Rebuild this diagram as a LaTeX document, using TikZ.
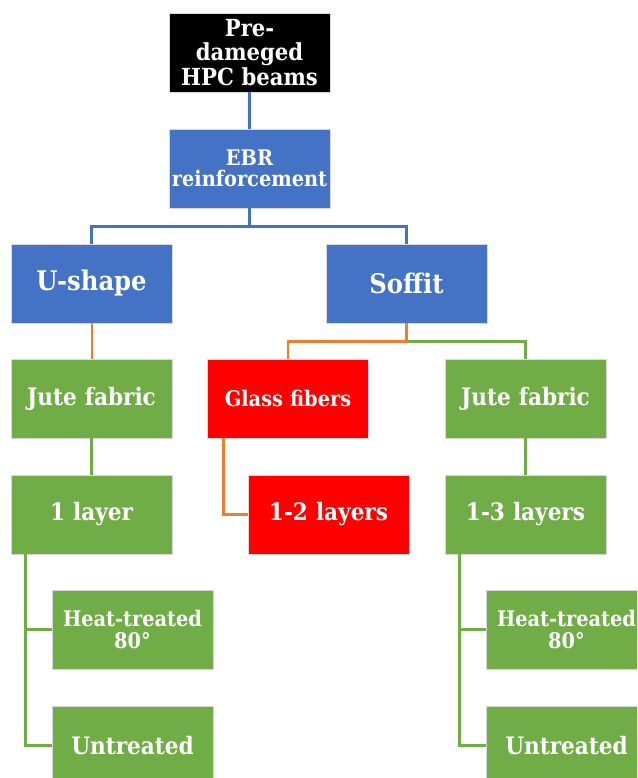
\documentclass[tikz,border=0pt]{standalone}
\usepackage{fontspec}
\setmainfont{DejaVu Serif Condensed}
\usetikzlibrary{positioning,calc}

\definecolor{ebrblue}{HTML}{4472C4}
\definecolor{jutegreen}{HTML}{70AD47}
\definecolor{linkorange}{HTML}{ED7D31}

\begin{document}
\begin{tikzpicture}[
  x=1pt, y=-1pt,
  box/.style={
    rectangle, draw=white!85!black, line width=0.6pt,
    minimum width=161pt, minimum height=79pt,
    text width=161pt, align=center, inner sep=0pt,
    text=white, font=\bfseries\fontsize{24}{26}\selectfont
  },
  bluebox/.style={box, fill=ebrblue},
  greenbox/.style={box, fill=jutegreen},
  redbox/.style={box, fill=red},
  topbox/.style={box, fill=black, font=\bfseries\fontsize{23.5}{24.5}\selectfont},
  bigtext/.style={font=\bfseries\fontsize{27}{30}\selectfont},
  smalltext/.style={font=\bfseries\fontsize{21.5}{22}\selectfont},
  link/.style={line width=2.6pt},
  bluelink/.style={link, draw=ebrblue},
  greenlink/.style={link, draw=jutegreen},
  orangelink/.style={link, draw=linkorange}
]

\clip (0,0) rectangle (637,778);

% Top of the tree
\node[topbox] (beams) at (249.5,52.5) {Pre-\\dameged\\HPC beams};
\node[bluebox, font=\bfseries\fontsize{21.5}{21}\selectfont] (ebr) at (249.5,168.5) {EBR\\reinforcement};

\node[bluebox, bigtext] (ushape) at (91.5,283.5) {U-shape};
\node[bluebox, bigtext] (soffit) at (406.5,283.5) {Soffit};

% Fabrics
\node[greenbox] (jutel) at (91.5,398.5) {Jute fabric};
\node[redbox, smalltext] (glass) at (288,398.5) {Glass fibers};
\node[greenbox] (juter) at (525.5,398.5) {Jute fabric};

% Layers
\node[greenbox] (onel) at (91.5,514.5) {1 layer};
\node[redbox] (twol) at (328.5,514.5) {1-2 layers};
\node[greenbox] (threel) at (525.5,514.5) {1-3 layers};

% Treatments
\node[greenbox, smalltext] (heatl) at (132.5,629.5) {Heat-treated\\80°};
\node[greenbox] (untrl) at (132.5,745.5) {Untreated};
\node[greenbox, smalltext] (heatr) at (566.5,629.5) {Heat-treated\\80°};
\node[greenbox] (untrr) at (566.5,745.5) {Untreated};

% Split points
\coordinate (ebrsplit) at ($(ebr.south)+(0,18)$);
\coordinate (soffitsplit) at ($(soffit.south)+(0,18)$);

% Connectors
\draw[bluelink] (beams) -- (ebr);
\draw[bluelink] (ebr) -- (ebrsplit) -| (ushape);
\draw[bluelink] (ebrsplit) -| (soffit);

\draw[orangelink, line width=2pt] (ushape) -- (jutel);
\draw[orangelink] (soffit) -- (soffitsplit) -| (glass);
\draw[greenlink] (soffitsplit) -| (juter);

\draw[greenlink] (jutel) -- (onel);
\draw[orangelink] ([xshift=16pt]glass.south west) |- (twol.west);
\draw[greenlink] (juter) -- (threel);

\draw[greenlink] ([xshift=15pt]onel.south west) |- (heatl.west);
\draw[greenlink] ([xshift=15pt]onel.south west) |- (untrl.west);
\draw[greenlink] ([xshift=15pt]threel.south west) |- (heatr.west);
\draw[greenlink] ([xshift=15pt]threel.south west) |- (untrr.west);

\end{tikzpicture}
\end{document}
